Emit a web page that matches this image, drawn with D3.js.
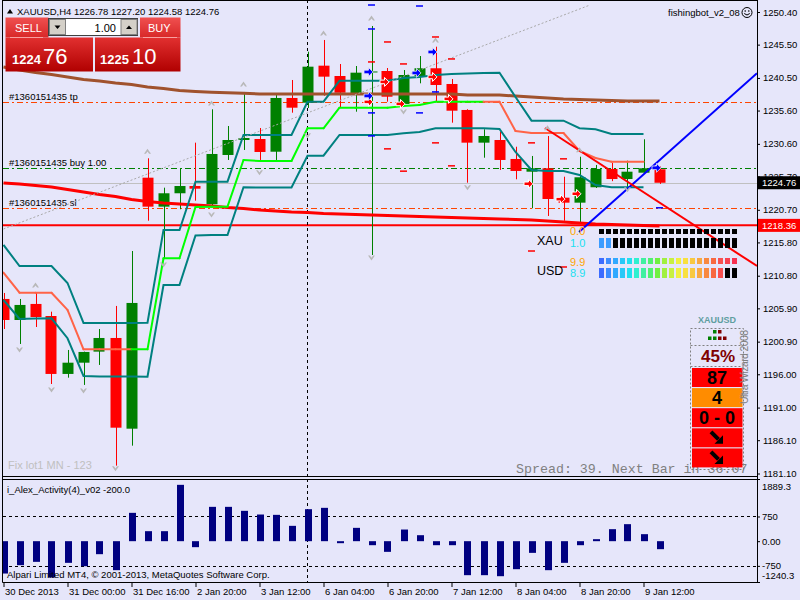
<!DOCTYPE html>
<html><head><meta charset="utf-8">
<script src="https://cdn.jsdelivr.net/npm/d3@7/dist/d3.min.js"></script>
<style>
html,body{margin:0;padding:0;background:#E6E6FA;}
svg{display:block;font-family:"Liberation Sans",Arial,sans-serif;}
</style></head><body>
<svg id="c" width="800" height="600"></svg>
<script>
// ---------------- DATA ----------------
const symbolLabel = "XAUUSD,H4";
const open  = [1207.31,1204.15,1206.56,1204.75,1196.05,1197.74,1199.40,1201.45,1187.83,1225.52,1221.17,1223.18,1224.27,1221.53,1228.93,1231.18,1231.33,1229.42,1237.49,1236.78,1242.34,1240.79,1238.19,1241.32,1241.54,1236.59,1240.79,1241.95,1239.59,1235.69,1230.78,1231.18,1228.33,1226.42,1226.93,1222.52,1221.77,1224.08,1226.83,1225.32,1226.27,1226.78];
const high  = [1208.21,1207.31,1208.21,1205.40,1199.65,1199.40,1202.80,1206.26,1214.51,1228.43,1224.02,1226.93,1230.78,1235.79,1233.28,1238.39,1232.98,1238.09,1240.19,1244.44,1246.20,1242.59,1242.29,1248.30,1241.99,1241.69,1243.79,1245.19,1240.34,1235.80,1232.79,1232.43,1230.17,1228.78,1231.78,1225.67,1228.67,1227.43,1227.77,1228.07,1231.29,1227.20];
const low   = [1202.80,1200.55,1203.10,1194.54,1195.49,1194.40,1197.40,1182.28,1185.28,1219.06,1213.46,1220.78,1222.07,1221.17,1228.18,1229.68,1228.18,1228.18,1235.28,1235.99,1237.83,1236.03,1235.43,1213.91,1236.93,1236.29,1239.69,1236.93,1233.78,1224.77,1228.52,1226.68,1225.28,1220.93,1219.77,1219.06,1218.67,1223.97,1225.00,1224.08,1226.22,1224.58];
const close = [1204.15,1206.41,1204.60,1196.05,1197.74,1199.35,1201.45,1187.98,1206.71,1221.17,1223.18,1224.27,1223.87,1229.08,1231.18,1231.48,1229.38,1237.49,1236.03,1242.19,1240.69,1238.28,1241.29,1241.47,1237.68,1240.94,1241.95,1239.44,1235.58,1230.78,1231.78,1228.18,1226.53,1226.93,1222.32,1221.77,1225.58,1226.83,1225.32,1226.42,1226.93,1224.76];

const chanUpper = [1215.42,1212.26,1212.26,1212.26,1209.71,1203.70,1203.70,1203.70,1203.70,1203.75,1217.67,1217.67,1224.92,1224.92,1224.92,1231.93,1231.93,1231.93,1231.93,1236.93,1236.93,1240.08,1240.08,1240.08,1240.08,1240.49,1240.64,1240.94,1241.09,1241.17,1241.24,1241.29,1237.64,1234.08,1234.08,1234.08,1232.94,1232.79,1232.08,1232.08,1232.08,null];
const chanMid   = [1211.26,1208.25,1208.25,1208.25,1205.66,1199.75,1199.75,1199.75,1199.75,1199.75,1213.42,1213.42,1221.12,1221.17,1221.17,1228.18,1228.03,1228.03,1228.03,1232.94,1232.94,1236.03,1236.03,1236.03,1236.03,1236.29,1236.44,1236.93,1236.93,1236.93,1236.93,1236.93,1232.53,1232.23,1232.23,1232.23,1229.53,1228.48,1227.92,1227.92,1227.92,null];
const midTrend  = ["dn","dn","dn","dn","dn","dn","dn","dn","dn","up","up","up","up","up","up","up","up","up","up","up","up","up","up","up","up","up","up","up","up","up","up","dn","dn","dn","dn","dn","dn","dn","dn","dn","dn","dn"];
const chanLower = [1207.16,1204.30,1204.38,1204.41,1201.41,1195.75,1195.67,1195.67,1195.67,1195.64,1209.41,1209.41,1216.84,1216.92,1216.92,1224.08,1224.05,1224.05,1224.05,1228.82,1228.82,1231.93,1231.93,1231.93,1231.93,1232.19,1232.38,1232.94,1232.94,1232.94,1232.94,1232.83,1229.38,1226.68,1226.53,1226.53,1225.93,1224.42,1224.08,1224.08,1224.08,null];

const maBrown = [1242.14,1241.69,1241.32,1241.02,1240.64,1240.26,1240.04,1239.74,1239.51,1239.14,1238.91,1238.61,1238.46,1238.34,1238.27,1238.19,1238.09,1238.09,1238.09,1238.09,1238.09,1238.09,1238.09,1238.09,1238.09,1238.09,1238.09,1238.09,1238.09,1237.94,1237.94,1237.94,1237.79,1237.64,1237.49,1237.34,1237.26,1237.19,1237.11,1237.04,1237.04,1237.04];
const maRed   = [1224.72,1224.57,1224.35,1224.12,1223.75,1223.37,1223.00,1222.70,1222.25,1221.95,1221.72,1221.57,1221.42,1221.27,1221.05,1220.90,1220.67,1220.52,1220.37,1220.29,1220.14,1220.07,1219.99,1219.92,1219.84,1219.77,1219.69,1219.62,1219.54,1219.47,1219.39,1219.32,1219.24,1219.17,1219.02,1218.87,1218.72,1218.57,1218.49,1218.42,1218.34,1218.27];

const activity = [-983,-729,-628,-1104,-658,-760,-395,-881,861,304,304,1712,-182,1043,1043,922,810,800,466,972,1013,-61,405,-122,-324,354,182,-122,-122,-1033,-1033,-1064,-851,-355,-881,-658,-122,61,365,517,213,-243];

const priceTicks = [1250.40,1245.50,1240.50,1235.60,1230.60,1225.70,1220.70,1215.80,1210.80,1205.90,1200.90,1196.00,1191.00,1186.10,1181.10];
const indTicks = [1889.3,750,0,-750,-1240.3];
const indTickLabels = ["1889.3","750","0.00","-750","-1240.3"];
const indLevels = [750,-750];
const timeTickBars = [0,4,8,12,16,20,24,28,32,36,40];
const timeTickLabels = ["30 Dec 2013","31 Dec 00:00","31 Dec 16:00","2 Jan 20:00","3 Jan 12:00","6 Jan 04:00","6 Jan 20:00","7 Jan 12:00","8 Jan 04:00","8 Jan 20:00","9 Jan 12:00"];

const bidPrice = 1224.76, askPrice = 1225.10, alertPrice = 1218.36;
const orderLabels = ["#1360151435 tp","#1360151435 buy 1.00","#1360151435 sl"];
const orderPrices = [1236.94,1226.94,1220.94];
const orderColors = ["#FF4500","#008000","#FF4500"];
const separatorBar = 19;

const trendGray = [[0,1217.82],[36.66,1251.45]];
const trendBlue = [[35.97,1217.37],[45.22,1237.19]];
const trendRed  = [[33.84,1232.98],[44.59,1216.17]];

const fractUpBar = [2,9,13,15,20,23,27,34,36];
const fractUpPrice = [1209.4,1229.5,1236.75,1239.6,1247.25,1249.5,1246.2,1233.0,1229.7];
const fractDnBar = [1,3,5,7,10,13,16,19,23,25,29,39];
const fractDnPrice = [1199.65,1193.65,1193.5,1181.8,1212.4,1219.9,1226.25,1231.8,1213.45,1235.4,1224.0,1223.7];

const blueArrowBar = [23,23,26,27,41];
const blueArrowPrice = [1241.4,1237.8,1241.25,1244.4,1227.0];
const redArrowBar = [23,24,25,27,28,33,35,36];
const redArrowPrice = [1236.9,1239.9,1236.6,1240.65,1237.35,1224.6,1222.3,1223.1];
const blueDashBar = [23,23,23,23,26,26,27,41];
const blueDashPrice = [1251.45,1247.85,1235.25,1231.8,1251.3,1235.25,1238.4,1221.0];
const redDashBar = [23,24,24,25,25,27,27,28,28,33,35,33,35];
const redDashPrice = [1242.9,1245.9,1229.85,1242.6,1226.5,1246.65,1230.75,1243.35,1227.3,1230.75,1228.35,1214.51,1212.11];

const lotSize = "1.00";
const strengthLabels = ["XAU","USD"];
const strengthTop = ["0.0","9.9"];
const strengthBot = ["1.0","8.9"];
const meterGrad = ["#3c6cff","#3c8cff","#30a8ff","#28c8f8","#20e0f0","#30f0d0","#40f0a0","#50f070","#70f040","#a0f040","#c8f040","#f0f040","#f8e040","#f8c840","#f8a840","#f88840","#f86840","#f85050","#f84050","#f83050"];
const xauTopCells = d3.range(20).map(()=>"#000000");
const xauBotCells = d3.range(20).map(k=> k<2 ? "#3c9cff" : "#000000");
const usdTopCells = meterGrad.slice();
const usdBotCells = meterGrad.map((c,k)=> k<18 ? c : "#000000");

const wizTitle = "XAUUSD";
const wizPercent = "45%";
const wizRows = ["87","4","0 - 0","arrow","arrow"];
const wizColors = ["#FF0000","#FF8C00","#FF0000","#FF0000","#FF0000"];
const wizDotsTop = ["#008000","#800000"];
const wizDotsBot = ["#008000","#008000","#800000","#800000"];

// ---------------- LAYOUT ----------------
const svg = d3.select("#c");
const L = 3, R = 757, mainTop = 0, mainBot = 477, indTop = 479, indBot = 582;
const FONT = "Liberation Sans, Arial, sans-serif";

svg.append("rect").attr("width",800).attr("height",600).attr("fill","#E6E6FA");
const defs = svg.append("defs");
defs.append("clipPath").attr("id","clipMain").append("rect").attr("x",L).attr("y",mainTop).attr("width",R-L).attr("height",mainBot-mainTop);
defs.append("clipPath").attr("id","clipInd").append("rect").attr("x",L).attr("y",indTop).attr("width",R-L).attr("height",indBot-indTop);

const x = d3.scaleLinear().domain([0,41]).range([3.5,659.5]);
const y = d3.scaleLinear().domain([1181.10,1250.40]).range([473.5,12]);
const yI = d3.scaleLinear().domain([-1240.3,1889.3]).range([indBot,indTop]);

const gm = svg.append("g").attr("clip-path","url(#clipMain)");
const gi = svg.append("g").attr("clip-path","url(#clipInd)");

// horizontal price lines
gm.append("line").attr("x1",L).attr("x2",R).attr("y1",Math.round(y(bidPrice))+0.5).attr("y2",Math.round(y(bidPrice))+0.5).attr("stroke","#C0C0C0");
orderPrices.forEach((p,k)=>{
  const yy = Math.round(y(p))+0.5;
  gm.append("line").attr("x1",L).attr("x2",R).attr("y1",yy).attr("y2",yy)
    .attr("stroke",orderColors[k]).attr("stroke-dasharray","6,3,2,3");
  gm.append("text").attr("x",9).attr("y",yy-3).attr("font-size","9.5px").attr("fill","#000").text(orderLabels[k]);
});
gm.append("line").attr("x1",L).attr("x2",R).attr("y1",y(alertPrice)).attr("y2",y(alertPrice)).attr("stroke","#FF0000").attr("stroke-width",2);

// separator
gm.append("line").attr("x1",x(separatorBar)).attr("x2",x(separatorBar)).attr("y1",mainTop).attr("y2",mainBot).attr("stroke","#000").attr("stroke-dasharray","3,3");
gi.append("line").attr("x1",x(separatorBar)).attr("x2",x(separatorBar)).attr("y1",indTop).attr("y2",indBot).attr("stroke","#000").attr("stroke-dasharray","3,3");

// strength meter
const mg = svg.append("g");
const meterRows = [[xauTopCells,229,5],[xauBotCells,238,10],[usdTopCells,258,6],[usdBotCells,268,10]];
meterRows.forEach(([cells,yy,h])=>{
  cells.forEach((c,k)=> mg.append("rect").attr("x",599+7*k).attr("y",yy).attr("width",5).attr("height",h).attr("fill",c));
});
mg.append("text").attr("x",537).attr("y",245).attr("font-size","12.5px").text(strengthLabels[0]);
mg.append("text").attr("x",537).attr("y",275).attr("font-size","12.5px").text(strengthLabels[1]);
mg.append("text").attr("x",570).attr("y",235).attr("font-size","11px").attr("fill","#FFA500").text(strengthTop[0]);
mg.append("text").attr("x",570).attr("y",247).attr("font-size","11px").attr("fill","#20E0F0").text(strengthBot[0]);
mg.append("text").attr("x",570).attr("y",266).attr("font-size","11px").attr("fill","#FFA500").text(strengthTop[1]);
mg.append("text").attr("x",570).attr("y",277).attr("font-size","11px").attr("fill","#20E0F0").text(strengthBot[1]);

// candles
const cg = gm.append("g");
open.forEach((o,i)=>{
  const c = close[i], up = c>=o, col = up ? "#008000" : "#FF0000";
  const cx = Math.round(x(i))+0.5;
  cg.append("line").attr("x1",cx).attr("x2",cx).attr("y1",y(high[i])).attr("y2",y(low[i])).attr("stroke",col);
  const y0 = y(Math.max(o,c)), y1 = y(Math.min(o,c));
  cg.append("rect").attr("x",cx-6).attr("y",y0).attr("width",11).attr("height",Math.max(1,y1-y0)).attr("fill",col);
});

// indicator lines
const line = d3.line().defined(d=>d!=null).x((d,i)=>x(i)).y(d=>y(d));
gm.append("path").attr("d",line(maBrown)).attr("fill","none").attr("stroke","#A0522D").attr("stroke-width",3);
gm.append("path").attr("d",line(maRed)).attr("fill","none").attr("stroke","#FF0000").attr("stroke-width",3);
gm.append("path").attr("d",line(chanUpper)).attr("fill","none").attr("stroke","#008080").attr("stroke-width",2);
gm.append("path").attr("d",line(chanLower)).attr("fill","none").attr("stroke","#008080").attr("stroke-width",2);
for(let i=0;i<chanMid.length-1;i++){
  if(chanMid[i]==null||chanMid[i+1]==null) continue;
  gm.append("line").attr("x1",x(i)).attr("y1",y(chanMid[i])).attr("x2",x(i+1)).attr("y2",y(chanMid[i+1]))
    .attr("stroke", midTrend[i+1]==="up" ? "#00FF00" : "#FF6347").attr("stroke-width",2).attr("stroke-linecap","round");
}

// trend lines
function extendToRight(t){
  const x0=x(t[0][0]), y0=y(t[0][1]), x1=x(t[1][0]), y1=y(t[1][1]);
  const s=(y1-y0)/(x1-x0);
  return [x0,y0,R,y0+s*(R-x0)];
}
gm.append("line").attr("x1",x(trendGray[0][0])).attr("y1",y(trendGray[0][1])).attr("x2",x(trendGray[1][0])).attr("y2",y(trendGray[1][1]))
  .attr("stroke","#A9A9A9").attr("stroke-dasharray","2,2");
[[trendBlue,"#0000FF"],[trendRed,"#FF0000"]].forEach(([t,c])=>{
  const e = extendToRight(t);
  gm.append("line").attr("x1",e[0]).attr("y1",e[1]).attr("x2",e[2]).attr("y2",e[3]).attr("stroke",c).attr("stroke-width",2);
});

// fractals
const upPath = "M-3.5,2.5 L0,-2.5 L3.5,2.5 L1.6,2.5 L0,0.4 L-1.6,2.5 Z";
fractUpBar.forEach((b,k)=> gm.append("path").attr("d",upPath).attr("fill","#B8B8B8").attr("transform",`translate(${x(b)},${y(fractUpPrice[k])})`));
fractDnBar.forEach((b,k)=> gm.append("path").attr("d",upPath).attr("fill","#B8B8B8").attr("transform",`translate(${x(b)},${y(fractDnPrice[k])}) scale(1,-1)`));

// dashes
blueDashBar.forEach((b,k)=> gm.append("line").attr("x1",x(b)-3.5).attr("x2",x(b)+3.5).attr("y1",y(blueDashPrice[k])).attr("y2",y(blueDashPrice[k])).attr("stroke","#0000FF").attr("stroke-width",1.5));
redDashBar.forEach((b,k)=> gm.append("line").attr("x1",x(b)-3.5).attr("x2",x(b)+3.5).attr("y1",y(redDashPrice[k])).attr("y2",y(redDashPrice[k])).attr("stroke","#FF0000").attr("stroke-width",1.5));

// arrows
const arrowPath = "M-4.5,-1.8 L0,-1.8 L0,-4.5 L4.5,0 L0,4.5 L0,1.8 L-4.5,1.8 Z";
redArrowBar.forEach((b,k)=> gm.append("path").attr("d",arrowPath).attr("fill","#FF0000").attr("stroke","#FFFFFF").attr("stroke-width",1).attr("transform",`translate(${x(b)-3},${y(redArrowPrice[k])})`));
blueArrowBar.forEach((b,k)=> gm.append("path").attr("d",arrowPath).attr("fill","#0000FF").attr("stroke","#E6E6FA").attr("stroke-width",0.8).attr("transform",`translate(${x(b)-3},${y(blueArrowPrice[k])})`));

// texts inside main
svg.append("text").attr("x",8).attr("y",469).attr("font-size","11px").attr("fill","#C0C0C0").text("Fix lot1 MN - 123");
svg.append("text").attr("x",516).attr("y",473).attr("font-family","Liberation Mono, Courier New, monospace").attr("font-size","13.3px").attr("fill","#808080").text("Spread: 39. Next Bar in 36:07");
svg.append("text").attr("x",668).attr("y",16).attr("font-size","9.5px").text("fishingbot_v2_08");
const sm = svg.append("g").attr("transform","translate(747,12.5)");
sm.append("circle").attr("r",5).attr("fill","none").attr("stroke","#000");
sm.append("circle").attr("cx",-1.8).attr("cy",-1.5).attr("r",0.8);
sm.append("circle").attr("cx",1.8).attr("cy",-1.5).attr("r",0.8);
sm.append("path").attr("d","M-2.8,1 Q0,4 2.8,1").attr("fill","none").attr("stroke","#000");

// wizard widget
const wz = svg.append("g");
wz.append("text").attr("x",717).attr("y",323).attr("text-anchor","middle").attr("font-size","9px").attr("font-weight","bold").attr("fill","#5F9EA0").text(wizTitle);
wz.append("rect").attr("x",690.5).attr("y",328.5).attr("width",53).attr("height",141).attr("fill","none").attr("stroke","#808080").attr("stroke-dasharray","2,2");
[345.5,366.5].forEach(yy=> wz.append("line").attr("x1",690.5).attr("x2",743.5).attr("y1",yy).attr("y2",yy).attr("stroke","#808080").attr("stroke-dasharray","2,2"));
wizDotsTop.forEach((c,k)=> wz.append("rect").attr("x",713+5*k).attr("y",330).attr("width",3.5).attr("height",3.5).attr("fill",c));
wizDotsBot.forEach((c,k)=> wz.append("rect").attr("x",708+5*k).attr("y",336.5).attr("width",3.5).attr("height",3.5).attr("fill",c));
wz.append("text").attr("x",718).attr("y",362).attr("text-anchor","middle").attr("font-size","17px").attr("font-weight","bold").attr("fill","#800000").text(wizPercent);
wizRows.forEach((t,k)=>{
  const yy = 368 + 20.1*k;
  wz.append("rect").attr("x",692).attr("y",yy).attr("width",50.5).attr("height",19).attr("fill",wizColors[k]);
  if(t==="arrow"){
    const a = wz.append("g").attr("transform",`translate(717,${yy+9.5})`);
    a.append("line").attr("x1",-6).attr("y1",-6).attr("x2",1.5).attr("y2",1.5).attr("stroke","#000").attr("stroke-width",4);
    a.append("path").attr("d","M6,6 L6,-2.5 L-2.5,6 Z").attr("fill","#000");
  } else {
    wz.append("text").attr("x",717).attr("y",yy+16).attr("text-anchor","middle").attr("font-size","18px").attr("font-weight","bold").attr("fill","#000").text(t);
  }
});
wz.append("text").attr("transform","translate(748,367) rotate(-90)").attr("text-anchor","middle").attr("font-size","10.5px").attr("fill","#808080").attr("textLength",74).text("Ultra Wizard 2008");

// indicator panel
gi.append("text").attr("x",7).attr("y",493).attr("font-size","9.5px").text("i_Alex_Activity(4)_v02 -200.0");
indLevels.forEach(v=> gi.append("line").attr("x1",L).attr("x2",R).attr("y1",Math.round(yI(v))+0.5).attr("y2",Math.round(yI(v))+0.5).attr("stroke","#000").attr("stroke-dasharray","3,3"));
activity.forEach((v,i)=>{
  gi.append("rect").attr("x",Math.round(x(i))-3).attr("width",7)
    .attr("y",Math.min(yI(v),yI(0))).attr("height",Math.abs(yI(v)-yI(0))).attr("fill","#000080");
});
gi.append("text").attr("x",7).attr("y",578).attr("font-size","9.5px").text("Alpari Limited MT4, \u00A9 2001-2013, MetaQuotes Software Corp.");

// trade panel (one-click)
const tpg = svg.append("g");
const gradHead = defs.append("linearGradient").attr("id","gHead").attr("x1",0).attr("y1",0).attr("x2",0).attr("y2",1);
gradHead.append("stop").attr("offset","0").attr("stop-color","#F05050");
gradHead.append("stop").attr("offset","1").attr("stop-color","#D82828");
const gradBox = defs.append("linearGradient").attr("id","gBox").attr("x1",0).attr("y1",0).attr("x2",0).attr("y2",1);
gradBox.append("stop").attr("offset","0").attr("stop-color","#E23030");
gradBox.append("stop").attr("offset","1").attr("stop-color","#B00000");
tpg.append("rect").attr("x",5.5).attr("y",17.5).attr("width",43).attr("height",20).attr("fill","url(#gHead)");
tpg.append("rect").attr("x",140).attr("y",17.5).attr("width",40.5).attr("height",20).attr("fill","url(#gHead)");
tpg.append("rect").attr("x",5.5).attr("y",37.5).attr("width",87.5).attr("height",34).attr("fill","url(#gBox)");
tpg.append("rect").attr("x",95).attr("y",37.5).attr("width",85.5).attr("height",34).attr("fill","url(#gBox)");
tpg.append("line").attr("x1",10).attr("x2",43).attr("y1",37.5).attr("y2",37.5).attr("stroke","#F8A0A0");
tpg.append("line").attr("x1",143).attr("x2",177).attr("y1",37.5).attr("y2",37.5).attr("stroke","#F8A0A0");
tpg.append("text").attr("x",15).attr("y",32).attr("font-size","11px").attr("fill","#fff").text("SELL");
tpg.append("text").attr("x",148).attr("y",32).attr("font-size","11px").attr("fill","#fff").text("BUY");
tpg.append("rect").attr("x",48.5).attr("y",18.5).attr("width",89).attr("height",17).attr("fill","#fff").attr("stroke","#404040");
tpg.append("rect").attr("x",49.5).attr("y",19.5).attr("width",16).attr("height",15).attr("fill","#D4D0C8").attr("stroke","#808080");
tpg.append("rect").attr("x",121).attr("y",19.5).attr("width",16).attr("height",15).attr("fill","#D4D0C8").attr("stroke","#808080");
tpg.append("path").attr("d","M54.5,25.5 L60.5,25.5 L57.5,29 Z").attr("fill","#000");
tpg.append("path").attr("d","M126,29 L132,29 L129,25.5 Z").attr("fill","#000");
tpg.append("text").attr("x",116).attr("y",31.5).attr("text-anchor","end").attr("font-size","11px").attr("fill","#000").text(lotSize);
const bidStr = bidPrice.toFixed(2), askStr = askPrice.toFixed(2);
tpg.append("text").attr("x",12).attr("y",63.5).attr("font-size","13px").attr("font-weight","bold").attr("fill","#fff").text(bidStr.slice(0,4));
tpg.append("text").attr("x",43).attr("y",63.5).attr("font-size","22px").attr("fill","#fff").text(bidStr.slice(5));
tpg.append("text").attr("x",100).attr("y",63.5).attr("font-size","13px").attr("font-weight","bold").attr("fill","#fff").text(askStr.slice(0,4));
tpg.append("text").attr("x",132).attr("y",63.5).attr("font-size","22px").attr("fill","#fff").text(askStr.slice(5));

// header
const last = open.length-1;
svg.append("path").attr("d","M7,13.5 L13,13.5 L10,9 Z").attr("fill","#000");
svg.append("text").attr("x",17).attr("y",15).attr("font-size","9.5px").attr("xml:space","preserve")
  .text(symbolLabel + " " + [open[last],high[last],low[last],close[last]].map(v=>v.toFixed(2)).join(" "));

// axes
const ax = svg.append("g").attr("transform",`translate(${R},0)`)
  .call(d3.axisRight(y).tickValues(priceTicks).tickSize(3).tickPadding(3).tickFormat(d=>d.toFixed(2)));
const axI = svg.append("g").attr("transform",`translate(${R},0)`)
  .call(d3.axisRight(yI).tickValues(indTicks).tickSize(3).tickPadding(2).tickFormat((d,i)=>indTickLabels[i]));
axI.selectAll(".tick text").attr("dy",(d,i)=> i===0 ? "1.1em" : (i===indTicks.length-1 ? "-0.34em" : "0.32em"));
const axB = svg.append("g").attr("transform",`translate(0,${indBot})`)
  .call(d3.axisBottom(x).tickValues(timeTickBars).tickSize(5).tickPadding(1).tickFormat((d,i)=>timeTickLabels[i]));
axB.selectAll(".tick text").attr("text-anchor","start").attr("x",1);
[ax,axI,axB].forEach(a=>{
  a.select(".domain").remove();
  a.selectAll(".tick text").attr("font-size","9.5px").attr("font-family",FONT).attr("fill","#000");
  a.selectAll(".tick line").attr("stroke","#000");
});

// borders
const bd = svg.append("g").attr("stroke","#000").attr("fill","none");
bd.append("line").attr("x1",L-0.5).attr("x2",L-0.5).attr("y1",0).attr("y2",indBot+0.5);
bd.append("line").attr("x1",R+0.5).attr("x2",R+0.5).attr("y1",0).attr("y2",indBot+0.5);
bd.append("line").attr("x1",L-0.5).attr("x2",R+0.5).attr("y1",0.5).attr("y2",0.5);
bd.append("line").attr("x1",L-0.5).attr("x2",R+0.5).attr("y1",mainBot-0.5).attr("y2",mainBot-0.5);
bd.append("line").attr("x1",L-0.5).attr("x2",R+0.5).attr("y1",indTop+0.5).attr("y2",indTop+0.5);
bd.append("line").attr("x1",L-0.5).attr("x2",R+0.5).attr("y1",indBot+0.5).attr("y2",indBot+0.5);

// price labels on axis
[[bidPrice,"#000000"],[alertPrice,"#FF0000"]].forEach(([p,c])=>{
  const yy = y(p);
  svg.append("rect").attr("x",R+1).attr("y",yy-6.5).attr("width",42).attr("height",13).attr("fill",c);
  svg.append("text").attr("x",R+5).attr("y",yy+3.5).attr("font-size","9.5px").attr("fill","#fff").text(p.toFixed(2));
});
</script>
</body></html>
